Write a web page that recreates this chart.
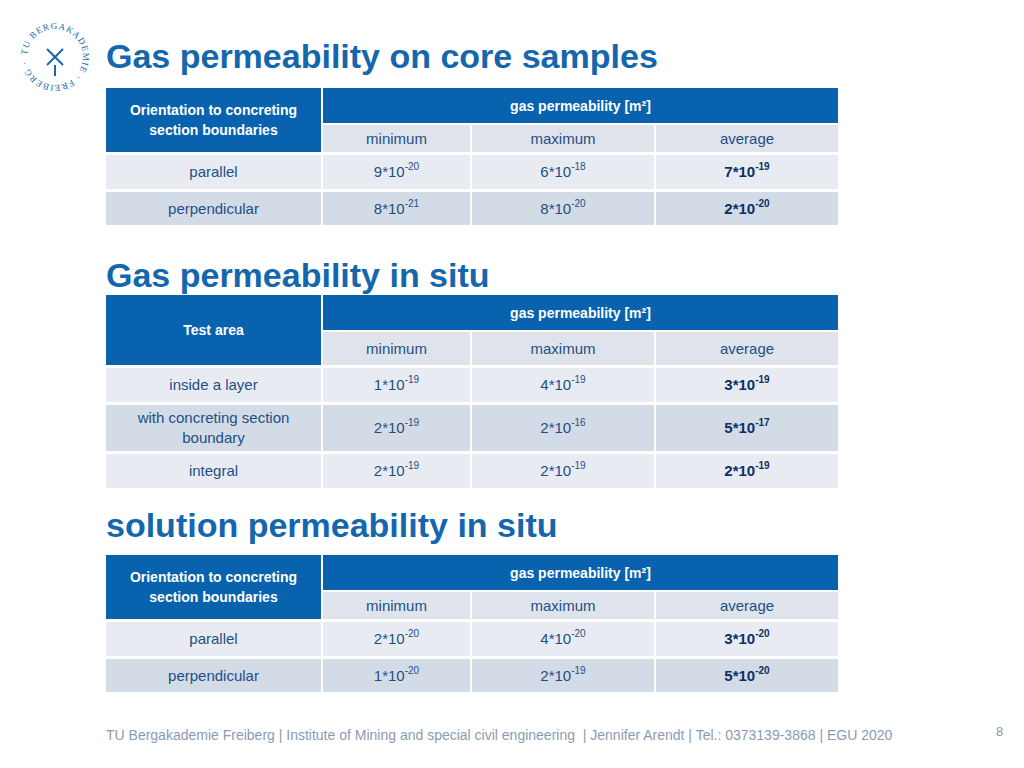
<!DOCTYPE html>
<html><head><meta charset="utf-8">
<script src="https://cdn.jsdelivr.net/npm/chart.js@4"></script>
<style>
body{margin:0;width:1024px;height:768px;background:#fff;font-family:"Liberation Sans",Arial,sans-serif;position:relative;overflow:hidden}
.t{position:absolute;left:106px;font-weight:bold;font-size:34px;color:#1467ad}
.c{position:absolute;display:flex;align-items:center;justify-content:center;text-align:center;font-size:15px;color:#1d4f86;line-height:20px}
.h{background:#0862ad;color:#fff;font-weight:bold;font-size:14px}
sup{font-size:10px;vertical-align:7px;line-height:0}
.foot{position:absolute;left:106px;top:727px;font-size:14px;color:#8a9bb3}
</style></head><body>
<svg style="position:absolute;left:14px;top:16px" width="82" height="82" viewBox="0 0 82 82">
<defs><path id="cp" d="M41,41 m-28,0 a28,28 0 1,1 56,0 a28,28 0 1,1 -56,0"/></defs>
<text font-size="9" fill="#1467ad" font-family="Liberation Serif" letter-spacing="1"><textPath href="#cp" startOffset="1%">TU BERGAKADEMIE · FREIBERG ·</textPath></text>
<g stroke="#1467ad" stroke-width="2"><line x1="33" y1="33" x2="49" y2="49"/><line x1="49" y1="33" x2="33" y2="49"/><line x1="41" y1="49" x2="41" y2="60"/></g>
</svg>
<div class="t" style="top:37px">Gas permeability on core samples</div>
<div class="t" style="top:256px">Gas permeability in situ</div>
<div class="t" style="top:506px">solution permeability in situ</div>
<div class="foot">TU Bergakademie Freiberg | Institute of Mining and special civil engineering &nbsp;| Jennifer Arendt | Tel.: 0373139-3868 | EGU 2020</div>
<div style="position:absolute;left:996px;top:724px;font-size:13px;color:#8a9bb3">8</div>
<div id="root"></div>
<script>
const subHeaders=["minimum","maximum","average"];
const groupHeader="gas permeability [m²]";
const t1Head="Orientation to concreting<br>section boundaries";
const t1Rows=["parallel","perpendicular"];
const t1Vals=[["9*10","-20","6*10","-18","7*10","-19"],["8*10","-21","8*10","-20","2*10","-20"]];
const t2Head="Test area";
const t2Rows=["inside a layer","with concreting section<br>boundary","integral"];
const t2Vals=[["1*10","-19","4*10","-19","3*10","-19"],["2*10","-19","2*10","-16","5*10","-17"],["2*10","-19","2*10","-19","2*10","-19"]];
const t3Head="Orientation to concreting<br>section boundaries";
const t3Rows=["parallel","perpendicular"];
const t3Vals=[["2*10","-20","4*10","-20","3*10","-20"],["1*10","-20","2*10","-19","5*10","-20"]];

const root=document.getElementById('root');
const cols=[[106,215],[323,147],[472,182],[656,182]];
function cell(x,y,w,h,html,cls,bg){const d=document.createElement('div');d.className='c '+(cls||'');d.style.cssText+=`left:${x}px;top:${y}px;width:${w}px;height:${h}px;`+(bg?`background:${bg};`:'');d.innerHTML=html;root.appendChild(d);}
function table(top,head,rows,vals,rowH,subH){
  cell(106,top,215,37+subH,head,'h');
  cell(323,top,515,35,groupHeader,'h');
  subHeaders.forEach((s,i)=>cell(cols[i+1][0],top+37,cols[i+1][1],subH,s,'','#dfe4ec'));
  let y=top+37+subH+3;
  rows.forEach((r,ri)=>{
    const h=rowH[ri],bg=ri%2?'#d3dbe6':'#e8ecf2';
    cell(106,y,215,h,r,'',bg);
    for(let k=0;k<3;k++){
      const v=vals[ri];
      cell(cols[k+1][0],y,cols[k+1][1],h,`<span${k==2?' style="font-weight:bold;color:#0d2f66"':''}>${v[2*k]}<sup>${v[2*k+1]}</sup></span>`,'',bg);
    }
    y+=h+3;
  });
}
table(88,t1Head,t1Rows,t1Vals,[34,33],27);
table(295,t2Head,t2Rows,t2Vals,[34,46,34],33);
table(555,t3Head,t3Rows,t3Vals,[34,33],27);
</script>
</body></html>
